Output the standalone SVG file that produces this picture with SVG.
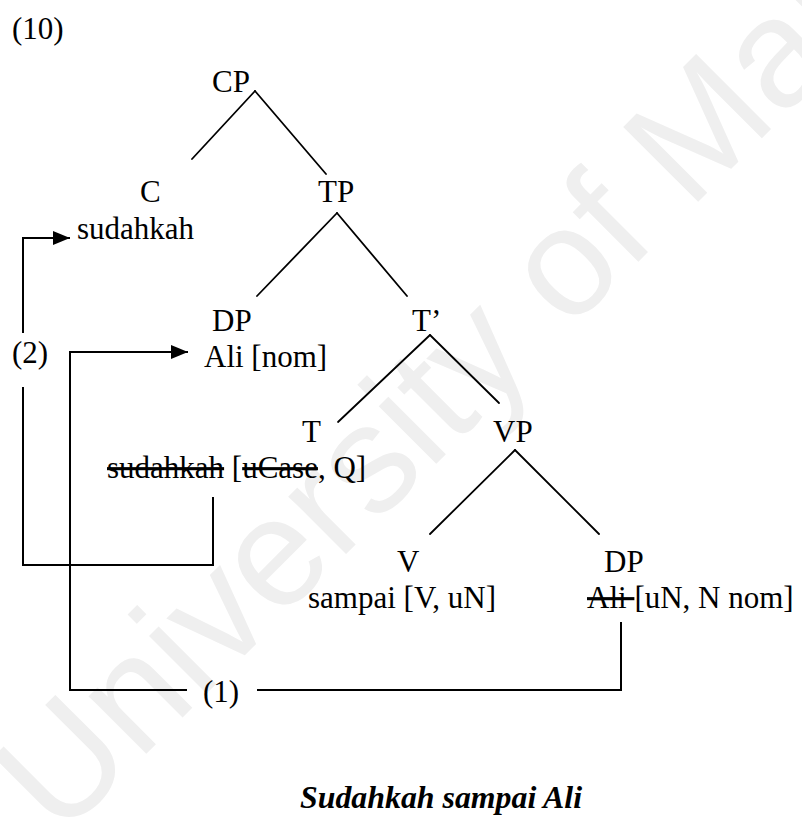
<svg xmlns="http://www.w3.org/2000/svg" width="802" height="817" viewBox="0 0 802 817">
  <style>
    .lbl { font-family: "Liberation Serif", "Times New Roman", serif; font-size: 31px; fill: #000; }
    .del { text-decoration: line-through; }
    .cap { font-family: "Liberation Serif", "Times New Roman", serif; font-size: 31px; font-weight: bold; font-style: italic; fill: #000; }
    .wm { font-family: "Liberation Sans", Arial, sans-serif; font-size: 154px; fill: #efefef; }
    .branch { stroke: #000; stroke-width: 1.8; fill: none; stroke-linecap: round; }
    .link { stroke: #000; stroke-width: 2; fill: none; }
  </style>
  <defs>
    <marker id="arrow" viewBox="0 0 17 14" refX="17" refY="7" markerWidth="17" markerHeight="14" markerUnits="userSpaceOnUse" orient="auto">
      <path d="M0,0 L17,7 L0,14 Z" fill="#000"/>
    </marker>
  </defs>

  <rect width="802" height="817" fill="#fff"/>

  <!-- background watermark -->
  <text class="wm" transform="translate(60,840) rotate(-45)">University of Malaya</text>

  <text class="lbl" x="12" y="39">(10)</text>

  <!-- tree branches -->
  <g id="branches">
    <line class="branch" x1="255" y1="91" x2="192" y2="159"/>
    <line class="branch" x1="255" y1="91" x2="326" y2="174"/>
    <line class="branch" x1="337" y1="213" x2="257" y2="296"/>
    <line class="branch" x1="337" y1="213" x2="407" y2="296"/>
    <line class="branch" x1="430" y1="335" x2="338" y2="422"/>
    <line class="branch" x1="430" y1="335" x2="499" y2="403"/>
    <line class="branch" x1="515" y1="450" x2="430" y2="534"/>
    <line class="branch" x1="515" y1="450" x2="599" y2="534"/>
  </g>

  <!-- nodes -->
  <g id="node-CP"><text class="lbl" x="212" y="92">CP</text></g>
  <g id="node-C">
    <text class="lbl" x="140" y="202">C</text>
    <text class="lbl" x="77" y="239">sudahkah</text>
  </g>
  <g id="node-TP"><text class="lbl" x="318" y="202">TP</text></g>
  <g id="node-DP-spec">
    <text class="lbl" x="212" y="331">DP</text>
    <text class="lbl" x="204" y="367">Ali [nom]</text>
  </g>
  <g id="node-Tbar"><text class="lbl" x="412" y="331">T’</text></g>
  <g id="node-T">
    <text class="lbl" x="302" y="442">T</text>
    <text class="lbl" x="107" y="478"><tspan class="del">sudahkah</tspan> [<tspan class="del">uCase</tspan>, Q]</text>
  </g>
  <g id="node-VP"><text class="lbl" x="493" y="442">VP</text></g>
  <g id="node-V">
    <text class="lbl" x="397" y="572">V</text>
    <text class="lbl" x="308" y="608">sampai [V, uN]</text>
  </g>
  <g id="node-DP-obj">
    <text class="lbl" x="604" y="572">DP</text>
    <text class="lbl" x="587" y="608"><tspan class="del">Ali </tspan>[uN, N nom]</text>
  </g>

  <!-- movement connectors -->
  <g id="connectors">
    <polyline class="link" points="213,497 213,565 23,565 23,387"/>
    <polyline class="link" points="23,333 23,238 70,238" marker-end="url(#arrow)"/>
    <text class="lbl" x="12" y="363">(2)</text>

    <polyline class="link" points="621,622 621,690 257,690"/>
    <polyline class="link" points="187,690 70,690 70,352 188,352" marker-end="url(#arrow)"/>
    <text class="lbl" x="203" y="702">(1)</text>
  </g>

  <text class="cap" x="300" y="808" textLength="282" lengthAdjust="spacingAndGlyphs">Sudahkah sampai Ali</text>
</svg>
